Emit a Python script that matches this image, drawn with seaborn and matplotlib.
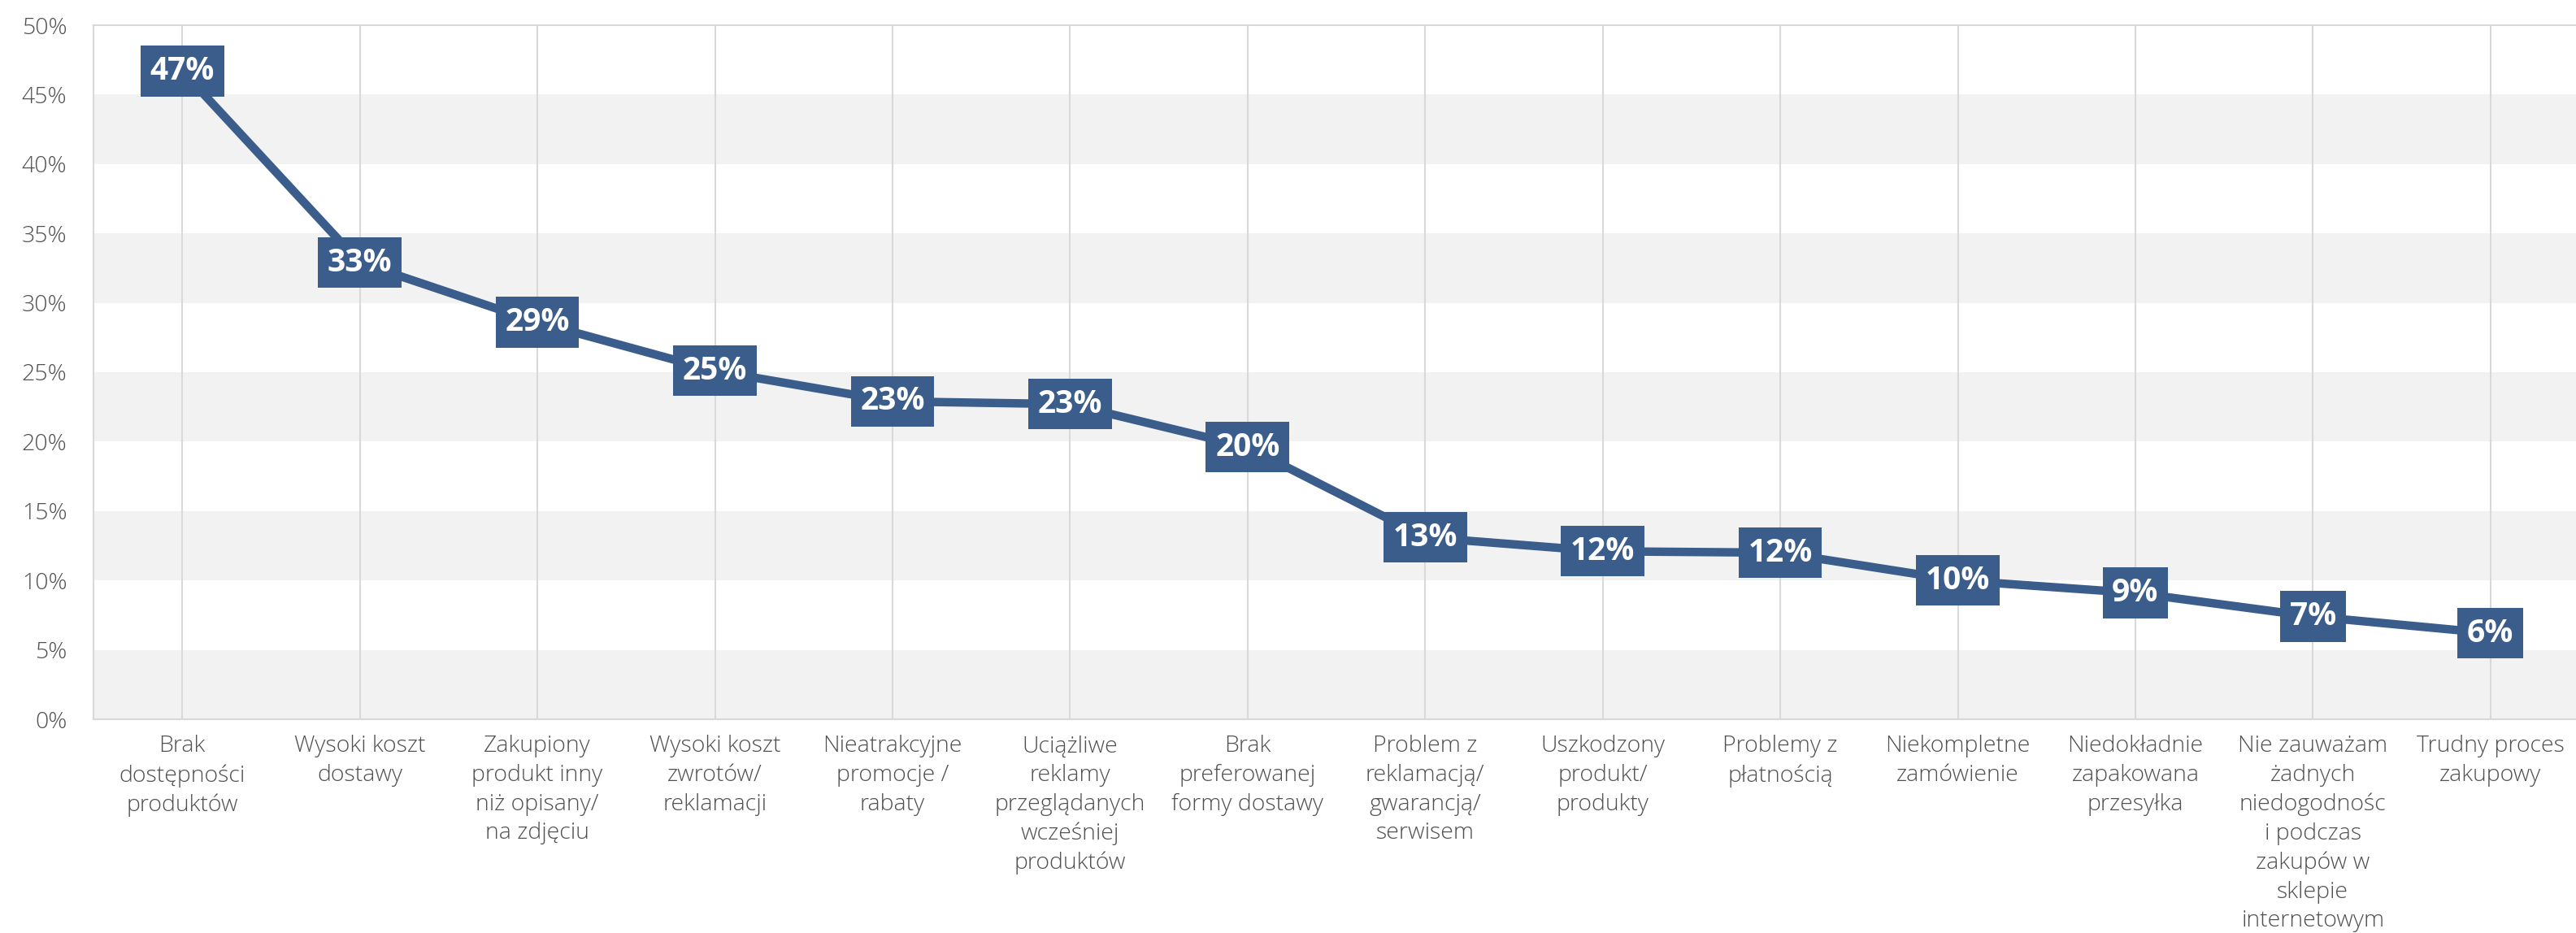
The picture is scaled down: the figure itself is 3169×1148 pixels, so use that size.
import pandas as pd
import matplotlib
matplotlib.use("Agg")
import matplotlib.pyplot as plt
import seaborn as sns

categories = [
    "Brak\ndostępności\nproduktów",
    "Wysoki koszt\ndostawy",
    "Zakupiony\nprodukt inny\nniż opisany/\nna zdjęciu",
    "Wysoki koszt\nzwrotów/\nreklamacji",
    "Nieatrakcyjne\npromocje /\nrabaty",
    "Uciążliwe\nreklamy\nprzeglądanych\nwcześniej\nproduktów",
    "Brak\npreferowanej\nformy dostawy",
    "Problem z\nreklamacją/\ngwarancją/\nserwisem",
    "Uszkodzony\nprodukt/\nprodukty",
    "Problemy z\npłatnością",
    "Niekompletne\nzamówienie",
    "Niedokładnie\nzapakowana\nprzesyłka",
    "Nie zauważam\nżadnych\nniedogodnośc\ni podczas\nzakupów w\nsklepie\ninternetowym",
    "Trudny proces\nzakupowy",
]
values = [46.7, 32.9, 28.6, 25.1, 22.9, 22.7, 19.6, 13.1, 12.1, 12.0, 10.0, 9.1, 7.4, 6.2]
y_ticks = [0, 5, 10, 15, 20, 25, 30, 35, 40, 45, 50]

LINE = "#3b5d8b"
GRID = "#d9d9d9"
BAND = "#f2f2f2"
TXT = "#505050"

sns.set_theme(style="white")
plt.rcParams["font.family"] = ["Open Sans", "DejaVu Sans"]

df = pd.DataFrame({"kategoria": categories, "udzial": values})

fig = plt.figure(figsize=(31.69, 11.48), dpi=100)
ax = fig.add_axes([115 / 3169, 1 - 885 / 1148, 3058 / 3169, (885 - 31) / 1148])

# alternating background bands
for lo in range(0, 50, 10):
    ax.axhspan(lo, lo + 5, color=BAND, zorder=0.2, lw=0)

sns.lineplot(data=df, x="kategoria", y="udzial", sort=False, color=LINE,
             linewidth=7.5, ax=ax, zorder=3)

for i, v in enumerate(values):
    ax.text(i, v, f"{round(v)}%", ha="center", va="center", color="white",
            fontsize=28, fontweight="bold", zorder=5,
            bbox=dict(boxstyle="square,pad=0.3", fc=LINE, ec="none"))

ax.set_xlim(-0.5, len(categories) - 0.5)
ax.set_ylim(0, 50)
ax.set_yticks(y_ticks)
ax.set_yticklabels([f"{t}%" for t in y_ticks])
ax.set_xlabel("")
ax.set_ylabel("")

ax.set_axisbelow(True)
ax.grid(axis="x", color=GRID, lw=1.5)
ax.grid(axis="y", visible=False)

for side in ["left", "bottom", "top"]:
    ax.spines[side].set_color(GRID)
    ax.spines[side].set_linewidth(1.5)
ax.spines["right"].set_visible(False)

ax.tick_params(axis="x", length=13, width=1.5, color=GRID, pad=1,
               labelsize=20.5, labelcolor=TXT)
ax.tick_params(axis="y", length=9.5, width=1.5, color=GRID, pad=14,
               labelsize=20.5, labelcolor=TXT)
ax.set_xticks([-0.5], minor=True)
ax.tick_params(axis="x", which="minor", length=7, width=1.5, color=GRID)

for lab in ax.get_xticklabels():
    lab.set_linespacing(1.36)
for lab in ax.get_xticklabels() + ax.get_yticklabels():
    lab.set_fontweight("light")

fig.savefig("out.png", dpi=100)
